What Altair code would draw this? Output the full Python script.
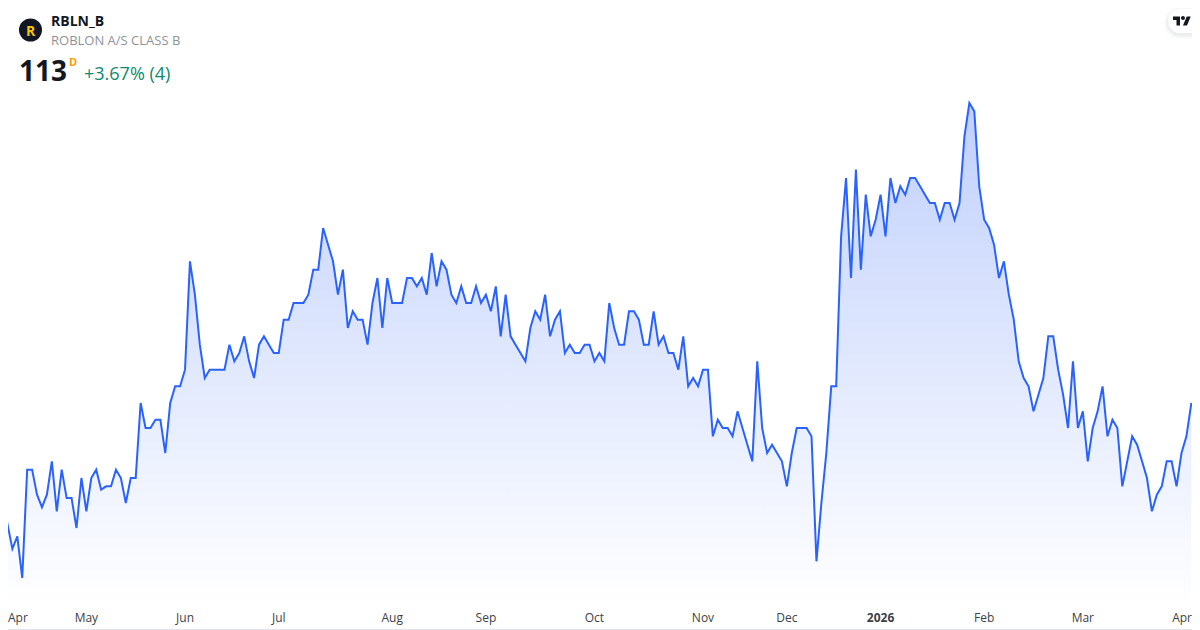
import altair as alt
import pandas as pd

closes = [
    102, 98.5, 95.5, 97, 92, 105, 105, 102, 100.5, 102, 106, 100, 105, 101.6, 101.6, 98, 104, 100, 104, 105,
    102.6, 103, 103, 105, 104, 101, 104, 104, 113, 110, 110, 111, 111, 107, 113, 115, 115, 117, 130, 126,
    120, 116, 117, 117, 117, 117, 120, 118, 119, 121, 118, 116, 120, 121, 120, 119, 119, 123, 123, 125, 125,
    125, 126, 129, 129, 134, 132, 130, 126, 129, 122, 124, 123, 123, 120, 125, 128, 122, 128, 125, 125,
    125, 128, 128, 127, 128, 126, 131, 127, 130, 129, 126, 125, 127, 125, 125, 127, 125, 126, 124, 127,
    121, 126, 121, 120, 119, 118, 122, 124, 123, 126, 121, 123, 124, 119, 120, 119, 119, 120, 120, 118, 119,
    118, 125, 122, 120, 120, 124, 124, 123, 120, 120, 124, 120, 121, 119, 119, 117, 121, 115, 116, 115,
    117, 117, 109, 111, 110, 110, 109, 112, 110, 108, 106, 118, 110, 107, 108, 107, 106, 103, 107, 110,
    110, 110, 109, 94, 101, 107, 115, 115,
    133, 140, 128, 141, 129, 138, 133, 135, 138, 133, 140, 137, 139, 138, 140, 140, 139, 138, 137, 137,
    135, 137, 137, 135, 137, 145, 149, 148, 139, 135, 134, 132,
    128, 130, 126, 123, 118, 116, 115, 112, 114, 116, 121, 121, 117, 114, 110, 118, 110, 112, 106, 110,
    112, 115, 109, 111, 110, 103, 106, 109, 108, 106, 104, 100, 102, 103, 106, 106, 103, 107, 109, 113,
]
tick_sessions = [17, 37, 56, 79, 98, 120, 142, 159, 199, 219]
tick_labels = ["May", "Jun", "Jul", "Aug", "Sep", "Oct", "Nov", "Dec", "Feb", "Mar"]
year_sessions = [178]
year_labels = ["2026"]
first_label = "Apr"
last_label = "Apr"

W, H = 1184, 622
FONT = "Open Sans"
LINE = "#2962ff"
BORDER = "#e0e3eb"
TICK = "#3c3f47"

df = pd.DataFrame({"session": range(len(closes)), "close": closes})
ticks = pd.DataFrame({"session": tick_sessions, "label": tick_labels})
years = pd.DataFrame({"session": year_sessions, "label": year_labels})

x_scale = alt.Scale(domain=[1.115, 241.13], nice=False, zero=False)
y_scale = alt.Scale(domain=[85.76, 160.4], nice=False, zero=False)
x_enc = alt.X("session:Q", scale=x_scale, axis=None)
y_enc = alt.Y("close:Q", scale=y_scale, axis=None, stack=None)

gradient = alt.LinearGradient(
    gradient="linear",
    x1=0, x2=0, y1=0, y2=1,
    stops=[
        alt.GradientStop(color="#c0d0fc", offset=0),
        alt.GradientStop(color="#ffffff", offset=1),
    ],
)

base = alt.Chart(df)
area = base.mark_area(color=gradient, opacity=1, clip=True, interpolate="linear").encode(
    x=x_enc, y=y_enc, y2=alt.value(598)
)
line = base.mark_line(color=LINE, strokeWidth=2, clip=True, interpolate="linear").encode(x=x_enc, y=y_enc)


def label(text, px, py, size, color, weight="normal", align="left"):
    """Header text positioned by page pixel; the chart origin is at page (8, 8)."""
    return (
        alt.Chart(alt.Data(values=[{"t": text}]))
        .mark_text(font=FONT, fontSize=size, color=color, fontWeight=weight, align=align, baseline="alphabetic")
        .encode(x=alt.value(px - 8), y=alt.value(py - 8), text="t:N")
    )


def tick_layer(frame, weight):
    return (
        alt.Chart(frame)
        .mark_text(font=FONT, fontSize=12, color=TICK, baseline="alphabetic", align="center", fontWeight=weight)
        .encode(
            x=alt.X("session:Q", scale=x_scale, axis=None),
            y=alt.value(622 - 8),
            text="label:N",
        )
    )


logo_circle = (
    alt.Chart(alt.Data(values=[{"a": 1}]))
    .mark_point(filled=True, shape="circle", size=530, color="#131722", opacity=1)
    .encode(x=alt.value(30.5 - 8), y=alt.value(30 - 8))
)

shadow_layers = [
    alt.Chart(alt.Data(values=[{"a": 1}]))
    .mark_rect(color="#131722", opacity=op, cornerRadius=14)
    .encode(x=alt.value(1168 - g - 8), x2=alt.value(W + 30), y=alt.value(9 - g - 8 + 2), y2=alt.value(33 + g - 8 + 2))
    for g, op in [(4, 0.012), (3, 0.015), (2, 0.02), (1, 0.025)]
]
pill = (
    alt.Chart(alt.Data(values=[{"a": 1}]))
    .mark_rect(color="white", cornerRadius=12)
    .encode(x=alt.value(1168 - 8), x2=alt.value(W + 30), y=alt.value(9 - 8), y2=alt.value(33 - 8))
)
TV_PATH = (
    "M-1 -0.5L-0.222 -0.5L-0.222 0.5L-0.611 0.5L-0.611 -0.111L-1 -0.111Z"
    "M0.556 0.5L0.111 0.5L0.528 -0.5L0.972 -0.5Z"
    "M-0.111 -0.333a0.222 0.222 0 1 0 0.444 0a0.222 0.222 0 1 0 -0.444 0Z"
)
tv_logo = (
    alt.Chart(alt.Data(values=[{"a": 1}]))
    .mark_point(filled=True, shape=TV_PATH, size=324, color="#131722", opacity=1)
    .encode(x=alt.value(1182 - 8), y=alt.value(21 - 8))
)

border_bottom = (
    alt.Chart(alt.Data(values=[{"a": 1}]))
    .mark_rule(color=BORDER, strokeWidth=1)
    .encode(x=alt.value(0), x2=alt.value(W), y=alt.value(H - 0.5))
)

chart = alt.layer(
    area,
    line,
    tick_layer(ticks, "normal"),
    tick_layer(years, "bold"),
    label(first_label, 8, 622, 12, TICK),
    label(last_label, 1192, 622, 12, TICK, align="right"),
    logo_circle,
    label("R", 30.5, 35.5, 14, "#f7c600", weight="bold", align="center"),
    label("RBLN_B", 51, 26, 14, "#131722", weight="bold"),
    label("ROBLON A/S CLASS B", 51, 45, 13, "#8f9298"),
    label("113", 19, 81, 28, "#131722", weight="bold"),
    label("D", 69, 66, 11, "#ff9800", weight="bold"),
    label("+3.67% (4)", 84, 80, 18, "#0b8a70"),
    *shadow_layers,
    pill,
    tv_logo,
    border_bottom,
).properties(
    width=W,
    height=H,
    padding=0,
    autosize=alt.AutoSizeParams(type="none"),
    background="white",
).configure_view(stroke=None)

chart.save("out.html", embed_options={"renderer": "svg", "actions": False})
